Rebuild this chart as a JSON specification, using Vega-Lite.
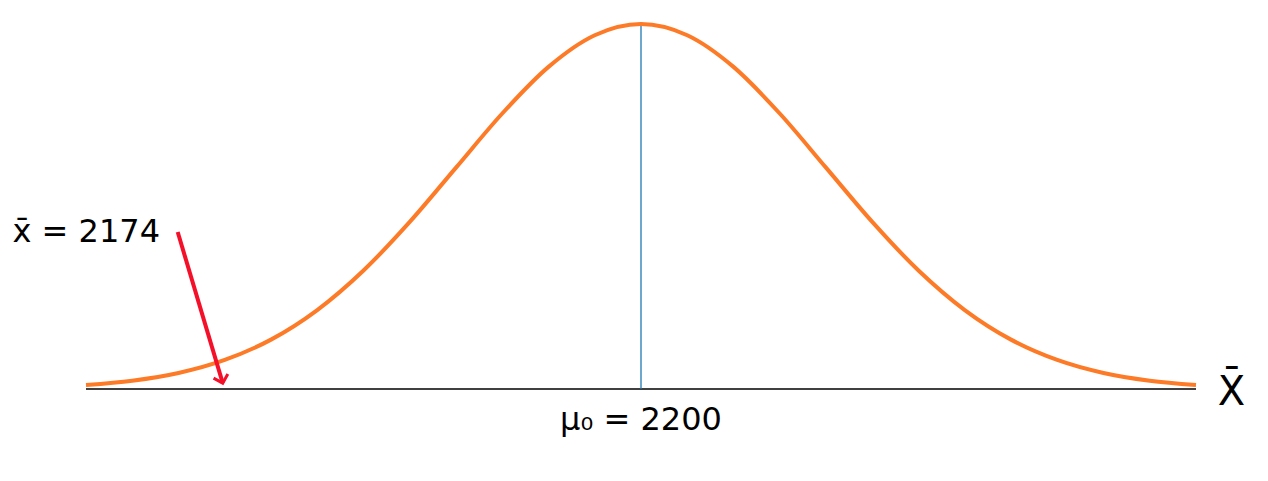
{
  "$schema": "https://vega.github.io/schema/vega-lite/v6.json",
  "width": 1110,
  "height": 365,
  "autosize": "none",
  "padding": {"left": 86, "top": 24, "right": 72, "bottom": 92},
  "background": "white",
  "config": {"view": {"stroke": null}},
  "datasets": {
    "curve": [
      {"x": 2165.5, "d": 0.0111}, {"x": 2168.375, "d": 0.0228}, {"x": 2171.25, "d": 0.0439},
      {"x": 2174.125, "d": 0.0796}, {"x": 2177, "d": 0.1353}, {"x": 2179.875, "d": 0.2163},
      {"x": 2182.75, "d": 0.3247}, {"x": 2185.625, "d": 0.4578}, {"x": 2188.5, "d": 0.6065},
      {"x": 2191.375, "d": 0.7548}, {"x": 2194.25, "d": 0.8825}, {"x": 2197.125, "d": 0.9692},
      {"x": 2200, "d": 1}, {"x": 2202.875, "d": 0.9692}, {"x": 2205.75, "d": 0.8825},
      {"x": 2208.625, "d": 0.7548}, {"x": 2211.5, "d": 0.6065}, {"x": 2214.375, "d": 0.4578},
      {"x": 2217.25, "d": 0.3247}, {"x": 2220.125, "d": 0.2163}, {"x": 2223, "d": 0.1353},
      {"x": 2225.875, "d": 0.0796}, {"x": 2228.75, "d": 0.0439}, {"x": 2231.625, "d": 0.0228},
      {"x": 2234.5, "d": 0.0111}
    ],
    "arrow": [
      {"x": 2171.2, "d": 0.43, "o": 0},
      {"x": 2174, "d": 0.016, "o": 1}
    ]
  },
  "encoding": {
    "x": {"field": "x", "type": "quantitative", "scale": {"domain": [2165.5, 2234.5]}, "axis": null},
    "y": {"field": "d", "type": "quantitative", "scale": {"domain": [0, 1]}, "axis": null}
  },
  "layer": [
    {
      "data": {"values": [{"y0": 0}]},
      "mark": {"type": "rule", "color": "black", "strokeWidth": 1.3},
      "encoding": {"x": null, "y": {"field": "y0", "type": "quantitative"}}
    },
    {
      "data": {"values": [{"x": 2200, "d": 0, "d2": 1}]},
      "mark": {"type": "rule", "color": "#1f77b4", "strokeWidth": 1.3},
      "encoding": {"y2": {"field": "d2"}}
    },
    {
      "data": {"name": "curve"},
      "mark": {"type": "line", "color": "#fd7a27", "strokeWidth": 4, "interpolate": "monotone"}
    },
    {
      "data": {"name": "arrow"},
      "mark": {"type": "line", "color": "#f5102a", "strokeWidth": 4, "clip": false},
      "encoding": {"order": {"field": "o"}}
    },
    {
      "data": {"name": "arrow"},
      "transform": [{"filter": "datum.o == 1"}],
      "mark": {"type": "point", "shape": "M-1,-1L0,0L1,-1", "filled": false, "stroke": "#f5102a", "strokeWidth": 3, "size": 220, "angle": -16, "opacity": 1}
    },
    {
      "data": {"values": [{"x": 2170.1, "d": 0.43, "t": "x̄ = 2174"}]},
      "mark": {"type": "text", "font": "DejaVu Sans", "fontSize": 32, "align": "right", "baseline": "middle", "clip": false, "color": "black"},
      "encoding": {"text": {"field": "t"}}
    },
    {
      "data": {"values": [{"x": 2200, "d": -0.085, "t": "μ₀ = 2200"}]},
      "mark": {"type": "text", "font": "DejaVu Sans", "fontSize": 32, "align": "center", "baseline": "middle", "clip": false, "color": "black"},
      "encoding": {"text": {"field": "t"}}
    },
    {
      "data": {"values": [{"x": 2236.7, "d": -0.01, "t": "X̄"}]},
      "mark": {"type": "text", "font": "DejaVu Sans", "fontSize": 40, "align": "center", "baseline": "middle", "clip": false, "color": "black"},
      "encoding": {"text": {"field": "t"}}
    }
  ]
}
